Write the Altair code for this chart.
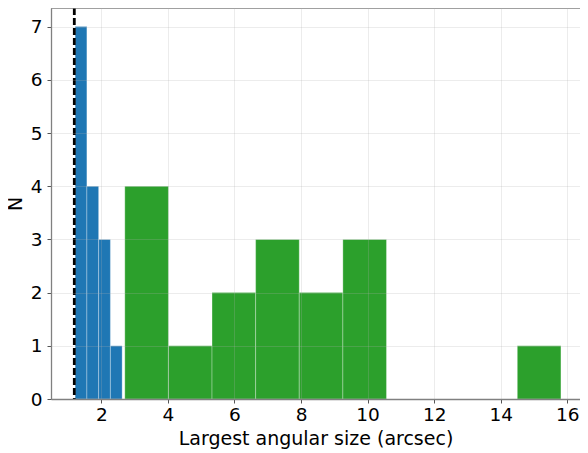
import altair as alt
import pandas as pd

# Bin edges and counts
blue_edges = [1.215, 1.568, 1.921, 2.274, 2.627]
blue_counts = [7, 4, 3, 1]

green_edges = [2.707, 4.017, 5.327, 6.637, 7.947, 9.257, 10.567,
               11.877, 13.187, 14.497, 15.807]
green_counts = [4, 1, 2, 3, 2, 3, 0, 0, 0, 1]

threshold = [1.19]

x_ticks = [2, 4, 6, 8, 10, 12, 14, 16]
y_ticks = [0, 1, 2, 3, 4, 5, 6, 7]

rows = []
for i, c in enumerate(blue_counts):
    rows.append({"lo": blue_edges[i], "hi": blue_edges[i + 1], "count": c, "base": 0, "group": "small"})
for i, c in enumerate(green_counts):
    if c > 0:
        rows.append({"lo": green_edges[i], "hi": green_edges[i + 1], "count": c, "base": 0, "group": "large"})
df = pd.DataFrame(rows)
df_line = pd.DataFrame({"x": threshold})

FONT = "DejaVu Sans"
LFS = 18.5
TFS = 19
W, H = 529, 391
SPINE = "#808080"

xscale = alt.Scale(domain=[0.49, 16.38], nice=False, zero=False)
yscale = alt.Scale(domain=[0, 7.35], nice=False)

bars = alt.Chart(df).mark_rect(stroke="white", strokeWidth=0.5, strokeOpacity=0.6).encode(
    x=alt.X("lo:Q", scale=xscale,
            axis=alt.Axis(values=x_ticks, title="Largest angular size (arcsec)", format="d",
                          grid=True, zindex=1, tickSize=4, labelPadding=2, titlePadding=6)),
    x2="hi:Q",
    y=alt.Y("count:Q", scale=yscale,
            axis=alt.Axis(values=y_ticks, title="N", format="d", grid=True, zindex=1,
                          tickSize=4, labelPadding=5, titlePadding=5)),
    y2="base:Q",
    color=alt.Color("group:N", scale=alt.Scale(domain=["small", "large"],
                                                range=["#1f77b4", "#2ca02c"]), legend=None),
)

rule = alt.Chart(df_line).mark_rule(color="black", strokeWidth=2.8, strokeDash=[7, 3]).encode(
    x=alt.X("x:Q", scale=xscale)
)

top_spine = alt.Chart(df_line).mark_rule(color=SPINE, strokeWidth=1.3).encode(
    x=alt.value(0), x2=alt.value(W), y=alt.value(0)
)

chart = (bars + rule + top_spine).properties(
    width=W, height=H,
    autosize="none",
    padding={"left": 43, "top": 0, "right": 0, "bottom": 54},
).configure_view(
    stroke=None
).configure_axis(
    labelFont=FONT, titleFont=FONT, labelFontSize=LFS, titleFontSize=TFS,
    titleFontWeight="normal", labelColor="black", titleColor="black",
    domainColor=SPINE, domainWidth=1.3, tickColor="#555555", tickWidth=1,
    gridColor="#b0b0b0", gridOpacity=0.3, gridWidth=0.8,
)

chart.save("out.html", embed_options={"renderer": "svg", "actions": False})
